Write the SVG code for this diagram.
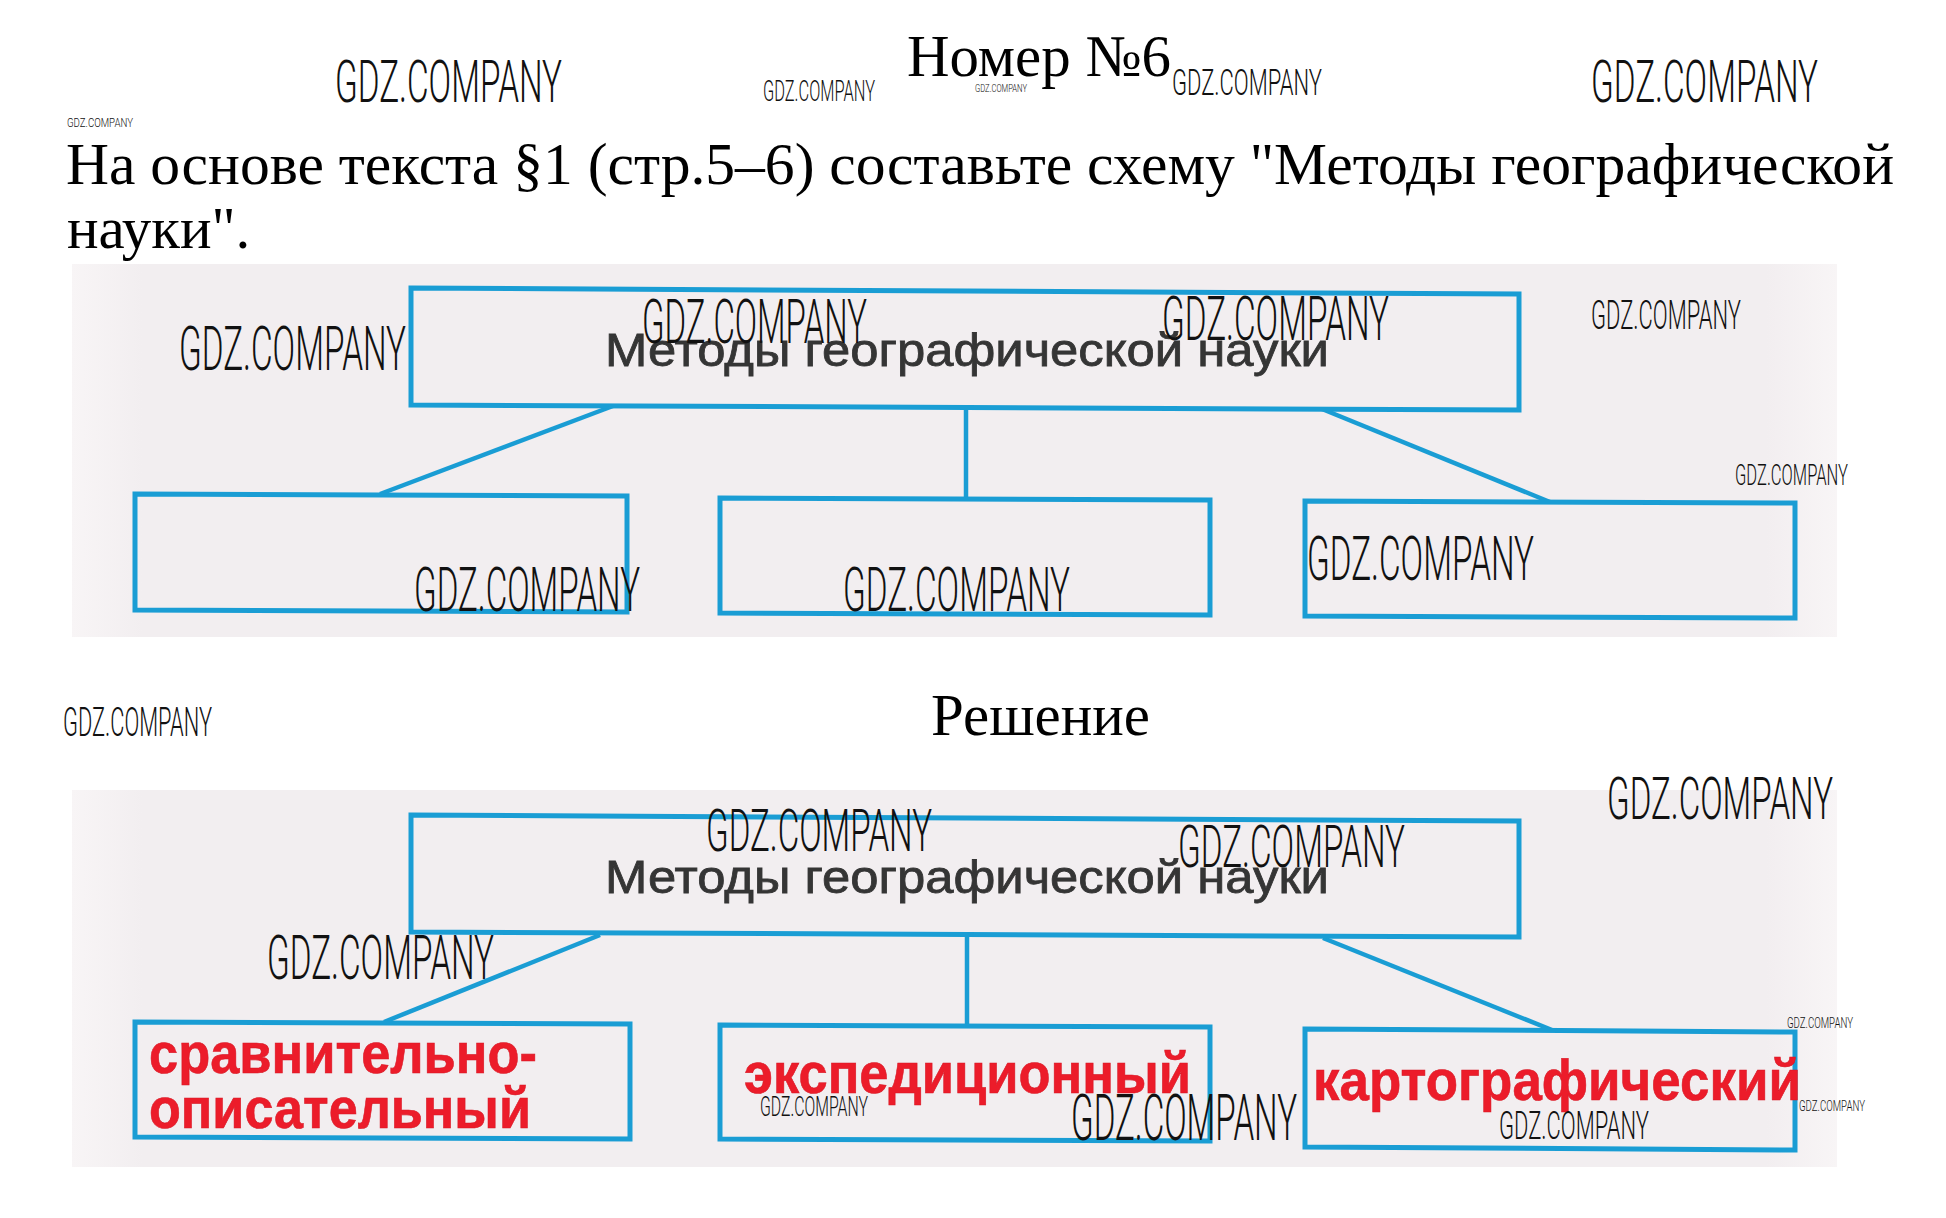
<svg xmlns="http://www.w3.org/2000/svg" width="1946" height="1218" viewBox="0 0 1946 1218">
<style>
.serif{font-family:"Liberation Serif","DejaVu Serif",serif;font-size:59px;fill:#000}
.wm{font-family:Roboto,"Liberation Sans",sans-serif;font-weight:300;fill:#111}
.box{fill:none;stroke:#1a9dd4;stroke-width:5;stroke-linejoin:miter}
.con{stroke:#1a9dd4;stroke-width:4.5;fill:none}
.head{font-family:"Liberation Sans",Arial,sans-serif;font-size:47px;fill:#353535;stroke:#353535;stroke-width:0.8}
.ans{font-family:"Liberation Sans",Arial,sans-serif;font-weight:bold;font-size:58px;fill:#ec1c2a;stroke:#d81825;stroke-width:0.6}
</style>
<defs>
<linearGradient id="bg" x1="0" y1="0" x2="1" y2="0">
<stop offset="0" stop-color="#f8f5f6"/>
<stop offset="0.04" stop-color="#f2eef0"/>
<stop offset="0.96" stop-color="#f2eef0"/>
<stop offset="1" stop-color="#f8f5f6"/>
</linearGradient>
</defs>
<rect width="1946" height="1218" fill="#fff"/>

<!-- header -->
<text class="serif" x="907" y="76" textLength="264" lengthAdjust="spacingAndGlyphs">Номер №6</text>
<text class="serif" x="66" y="184" textLength="1828" lengthAdjust="spacingAndGlyphs">На основе текста §1 (стр.5–6) составьте схему "Методы географической</text>
<text class="serif" x="67" y="248">науки".</text>
<text class="serif" x="931" y="735" textLength="219" lengthAdjust="spacingAndGlyphs">Решение</text>

<!-- photo backgrounds -->
<rect x="72" y="264" width="1765" height="373" fill="url(#bg)"/>
<rect x="72" y="790" width="1765" height="377" fill="url(#bg)"/>

<!-- diagram 1 connectors -->
<g id="connectors1">
<line class="con" x1="613" y1="406" x2="380" y2="494"/>
<line class="con" x1="966" y1="407" x2="966" y2="498"/>
<line class="con" x1="1322" y1="409" x2="1550" y2="502"/>
</g>
<g id="q-root">
<polygon class="box" points="411,288 1519,294 1519,410 411,405"/>
<text class="head" x="605" y="366" textLength="724" lengthAdjust="spacingAndGlyphs">Методы географической науки</text>
</g>
<g id="q-left"><polygon class="box" points="135,494 627,496 627,612 135,610"/></g>
<g id="q-mid"><polygon class="box" points="720,498 1210,500 1210,615 720,613"/></g>
<g id="q-right"><polygon class="box" points="1305,501 1795,503 1795,618 1305,616"/></g>

<!-- diagram 2 connectors -->
<g id="connectors2">
<line class="con" x1="600" y1="935" x2="384" y2="1022"/>
<line class="con" x1="967" y1="936" x2="967" y2="1026"/>
<line class="con" x1="1323" y1="938" x2="1552" y2="1030"/>
</g>
<g id="a-root">
<polygon class="box" points="411,815 1519,821 1519,937 411,932"/>
<text class="head" x="605" y="893" textLength="724" lengthAdjust="spacingAndGlyphs">Методы географической науки</text>
</g>
<g id="a-left">
<polygon class="box" points="135,1022 630,1024 630,1139 135,1137"/>
<text class="ans" x="149" y="1073" textLength="388" lengthAdjust="spacingAndGlyphs">сравнительно-</text>
<text class="ans" x="149" y="1128" textLength="382" lengthAdjust="spacingAndGlyphs">описательный</text>
</g>
<g id="a-mid">
<polygon class="box" points="720,1025 1210,1027 1210,1141 720,1139"/>
<text class="ans" x="744" y="1093" textLength="447" lengthAdjust="spacingAndGlyphs">экспедиционный</text>
</g>
<g id="a-right">
<polygon class="box" points="1305,1029 1795,1032 1795,1150 1305,1147"/>
<text class="ans" x="1313" y="1100" textLength="488" lengthAdjust="spacingAndGlyphs">картографический</text>
</g>

<!-- watermarks -->
<g id="watermarks">
<text class="wm" x="335" y="102" font-size="59" textLength="227" lengthAdjust="spacingAndGlyphs">GDZ.COMPANY</text>
<text class="wm" x="763" y="101" font-size="30" textLength="112" lengthAdjust="spacingAndGlyphs">GDZ.COMPANY</text>
<text class="wm" x="975" y="92" font-size="11" textLength="52" lengthAdjust="spacingAndGlyphs">GDZ.COMPANY</text>
<text class="wm" x="1172" y="95" font-size="36" textLength="150" lengthAdjust="spacingAndGlyphs">GDZ.COMPANY</text>
<text class="wm" x="1591" y="102" font-size="59" textLength="227" lengthAdjust="spacingAndGlyphs">GDZ.COMPANY</text>
<text class="wm" x="67" y="127" font-size="13" textLength="66" lengthAdjust="spacingAndGlyphs">GDZ.COMPANY</text>

<text class="wm" x="179" y="370" font-size="62" textLength="227" lengthAdjust="spacingAndGlyphs">GDZ.COMPANY</text>
<text class="wm" x="642" y="343" font-size="62" textLength="225" lengthAdjust="spacingAndGlyphs">GDZ.COMPANY</text>
<text class="wm" x="1162" y="340" font-size="62" textLength="227" lengthAdjust="spacingAndGlyphs">GDZ.COMPANY</text>
<text class="wm" x="1591" y="329" font-size="40" textLength="150" lengthAdjust="spacingAndGlyphs">GDZ.COMPANY</text>
<text class="wm" x="1735" y="485" font-size="29" textLength="113" lengthAdjust="spacingAndGlyphs">GDZ.COMPANY</text>
<text class="wm" x="414" y="611" font-size="62" textLength="226" lengthAdjust="spacingAndGlyphs">GDZ.COMPANY</text>
<text class="wm" x="843" y="611" font-size="62" textLength="227" lengthAdjust="spacingAndGlyphs">GDZ.COMPANY</text>
<text class="wm" x="1307" y="580" font-size="62" textLength="227" lengthAdjust="spacingAndGlyphs">GDZ.COMPANY</text>

<text class="wm" x="63" y="736" font-size="40" textLength="149" lengthAdjust="spacingAndGlyphs">GDZ.COMPANY</text>

<text class="wm" x="1607" y="819" font-size="60" textLength="226" lengthAdjust="spacingAndGlyphs">GDZ.COMPANY</text>
<text class="wm" x="706" y="851" font-size="60" textLength="226" lengthAdjust="spacingAndGlyphs">GDZ.COMPANY</text>
<text class="wm" x="1178" y="867" font-size="60" textLength="227" lengthAdjust="spacingAndGlyphs">GDZ.COMPANY</text>
<text class="wm" x="267" y="979" font-size="62" textLength="227" lengthAdjust="spacingAndGlyphs">GDZ.COMPANY</text>
<text class="wm" x="1787" y="1028" font-size="15" textLength="66" lengthAdjust="spacingAndGlyphs">GDZ.COMPANY</text>
<text class="wm" x="760" y="1116" font-size="27" textLength="108" lengthAdjust="spacingAndGlyphs">GDZ.COMPANY</text>
<text class="wm" x="1071" y="1140" font-size="64" textLength="226" lengthAdjust="spacingAndGlyphs">GDZ.COMPANY</text>
<text class="wm" x="1799" y="1111" font-size="15" textLength="66" lengthAdjust="spacingAndGlyphs">GDZ.COMPANY</text>
<text class="wm" x="1499" y="1139" font-size="38" textLength="150" lengthAdjust="spacingAndGlyphs">GDZ.COMPANY</text>
</g>
</svg>
